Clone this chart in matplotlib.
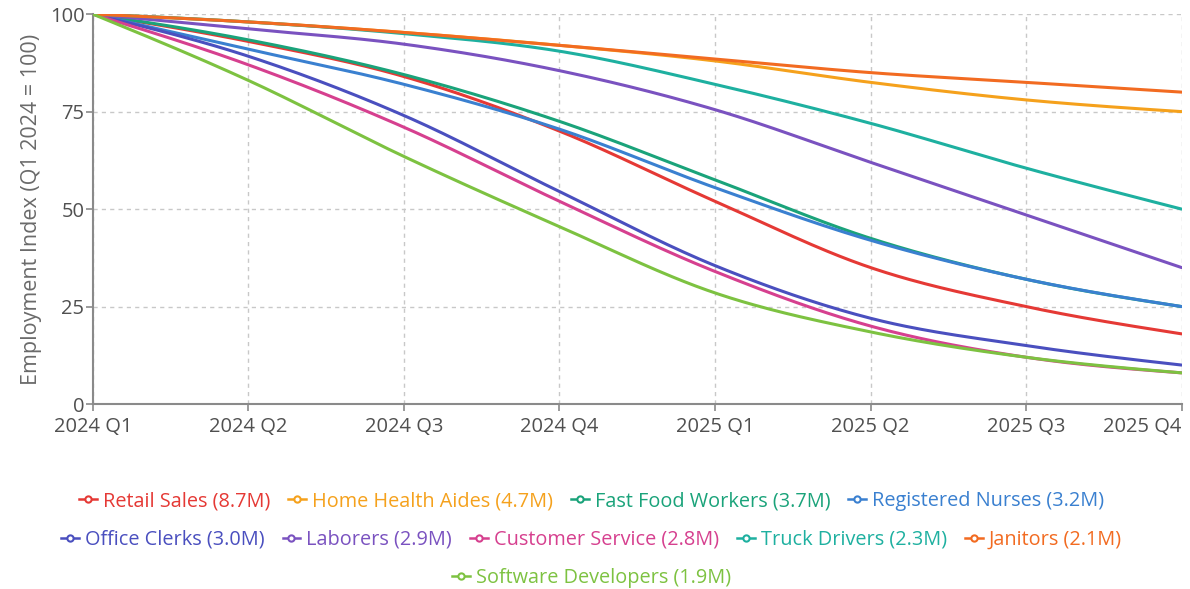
import numpy as np
import matplotlib
matplotlib.use("Agg")
import matplotlib.pyplot as plt
from matplotlib.lines import Line2D

plt.rcParams['font.family'] = ['Open Sans', 'DejaVu Sans']

quarters = ["2024 Q1", "2024 Q2", "2024 Q3", "2024 Q4",
            "2025 Q1", "2025 Q2", "2025 Q3", "2025 Q4"]

labels = ["Retail Sales (8.7M)", "Home Health Aides (4.7M)", "Fast Food Workers (3.7M)",
          "Registered Nurses (3.2M)", "Office Clerks (3.0M)", "Laborers (2.9M)",
          "Customer Service (2.8M)", "Truck Drivers (2.3M)", "Janitors (2.1M)",
          "Software Developers (1.9M)"]

retail_sales = [100, 93, 84, 70, 52, 35, 25, 18]
home_health_aides = [100, 98, 95.3, 92, 88, 82.5, 78, 75]
fast_food_workers = [100, 93.4, 84.5, 72.5, 57.5, 42.5, 32, 25]
registered_nurses = [100, 91, 82, 70.5, 55.5, 42, 32, 25]
office_clerks = [100, 89.2, 74, 54.5, 35.5, 22, 15, 10]
laborers = [100, 96.2, 92.3, 85.5, 75.5, 62, 48.5, 35]
customer_service = [100, 87, 71, 52, 34, 20, 12, 8]
truck_drivers = [100, 98, 95, 90.5, 82, 72, 60.5, 50]
janitors = [100, 98, 95.3, 92, 88.5, 85, 82.5, 80]
software_developers = [100, 83, 63.5, 45.5, 28.5, 18.5, 12, 8]

series = [retail_sales, home_health_aides, fast_food_workers, registered_nurses,
          office_clerks, laborers, customer_service, truck_drivers, janitors,
          software_developers]

colors = ["#e53935", "#f5a11c", "#1aa37a", "#3a80d0", "#4a4fbf",
          "#7a52c0", "#d6408f", "#1eb0a0", "#f26b21", "#7dc241"]


def monotone_curve(x, y, n=40):
    """Render a polyline with d3-style curveMonotoneX tangents (drawing only)."""
    x = np.asarray(x, float)
    y = np.asarray(y, float)
    h = np.diff(x)
    s = np.diff(y) / h
    m = np.zeros_like(y)
    for i in range(1, len(y) - 1):
        h0, h1 = h[i - 1], h[i]
        s0, s1 = s[i - 1], s[i]
        p = (s0 * h1 + s1 * h0) / (h0 + h1)
        m[i] = (np.sign(s0) + np.sign(s1)) * min(abs(s0), abs(s1), 0.5 * abs(p))
    m[0] = (3 * s[0] - m[1]) / 2
    m[-1] = (3 * s[-1] - m[-2]) / 2
    xs, ys = [], []
    for i in range(len(x) - 1):
        t = np.linspace(0, 1, n, endpoint=(i == len(x) - 2))
        h00 = 2 * t**3 - 3 * t**2 + 1
        h10 = t**3 - 2 * t**2 + t
        h01 = -2 * t**3 + 3 * t**2
        h11 = t**3 - t**2
        xs.append(x[i] + t * h[i])
        ys.append(h00 * y[i] + h10 * h[i] * m[i] + h01 * y[i + 1] + h11 * h[i] * m[i + 1])
    return np.concatenate(xs), np.concatenate(ys)


fig = plt.figure(figsize=(11.9, 5.89), dpi=100)
ax = fig.add_axes([0.078, 0.314, 0.915, 0.662])

xpos = np.arange(len(quarters))
for vals, col in zip(series, colors):
    cx, cy = monotone_curve(xpos, vals)
    ax.plot(cx, cy, color=col, lw=2.2, solid_capstyle='round', zorder=3)

ax.set_xlim(0, len(quarters) - 1)
ax.set_ylim(0, 100)
ax.set_xticks(xpos)
ax.set_xticklabels(quarters)
ax.set_yticks([0, 25, 50, 75, 100])

grid_col = "#c8c8c8"
ax.grid(True, color=grid_col, linestyle=(0, (3, 3)), linewidth=1.0, zorder=0)
for sname in ["top", "right"]:
    ax.spines[sname].set_visible(False)
for sname in ["left", "bottom"]:
    ax.spines[sname].set_color("#8a8a8a")
    ax.spines[sname].set_linewidth(1.5)

ax.tick_params(axis='both', colors="#8a8a8a", labelcolor="#505050",
               labelsize=14.5, length=5, width=1.2)
ax.tick_params(axis='y', pad=1)
ax.tick_params(axis='x', pad=4)
ax.set_ylabel("Employment Index (Q1 2024 = 100)", color="#6a6a6a", fontsize=15.5, labelpad=6)

labs = ax.get_xticklabels()
labs[-1].set_ha('right')

# Legend: three centred rows
rows = [[0, 1, 2, 3], [4, 5, 6, 7, 8], [9]]
row_y = [1 - 501 / 589, 1 - 540 / 589, 1 - 578 / 589]
for idxs, yy in zip(rows, row_y):
    handles = [Line2D([], [], color=colors[i], lw=1.8, marker='o', markersize=4.5,
                      markerfacecolor='white', markeredgewidth=1.5) for i in idxs]
    leg = fig.legend(handles, [labels[i] for i in idxs], loc='center',
                     bbox_to_anchor=(0.497, yy), ncol=len(idxs), frameon=False,
                     fontsize=14.3, handlelength=0.9, handletextpad=0.3,
                     columnspacing=0.9, borderaxespad=0)
    for t, i in zip(leg.get_texts(), idxs):
        t.set_color(colors[i])

fig.savefig("out.png", dpi=100)
